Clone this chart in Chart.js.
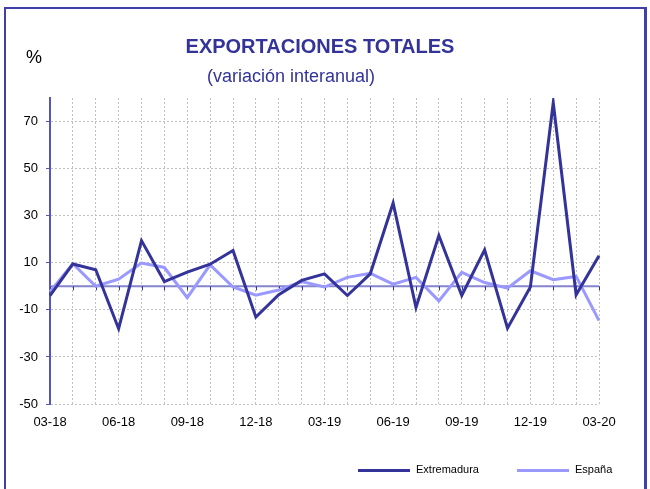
<!DOCTYPE html>
<html>
<head>
<meta charset="utf-8">
<script src="https://cdn.jsdelivr.net/npm/chart.js@4.4.0/dist/chart.umd.min.js"></script>
<style>
html,body{margin:0;padding:0;background:#fff;}
#wrap{position:relative;width:650px;height:489px;}
</style>
</head>
<body>
<div id="wrap"><canvas id="c" width="650" height="489"></canvas></div>
<script>
const categories = ["03-18","04-18","05-18","06-18","07-18","08-18","09-18","10-18","11-18","12-18","01-19","02-19","03-19","04-19","05-19","06-19","07-19","08-19","09-19","10-19","11-19","12-19","01-20","02-20","03-20"];
const extremadura = [-4, 9.5, 7, -18, 19.4, 2, 6, 9.4, 15.2, -13.1, -3.6, 2.5, 5.3, -3.9, 5.3, 35.4, -9, 21.6, -3.9, 15.5, -17.8, -0.3, 78, -3.6, 13];
const espana = [-2.3, 9.6, 0, 3, 9.9, 8, -4.8, 9.1, -0.3, -3.8, -1.6, 2, -0.3, 3.8, 5.5, 0.9, 3.8, -6.2, 5.9, 1.6, -0.8, 6.6, 2.8, 4.2, -14.6];
const yTicks = [-50, -30, -10, 10, 30, 50, 70];
const titleText = "EXPORTACIONES TOTALES";
const subtitleText = "(variación interanual)";
const unitText = "%";
const seriesNames = ["Extremadura", "España"];

const DARK = '#333399';
const LIGHT = '#9999ff';
const FONT = "'Liberation Sans', Arial, sans-serif";

const decor = {
  id: 'decor',
  beforeDatasetsDraw(chart) {
    const ctx = chart.ctx;
    const x = chart.scales.x, y = chart.scales.y;
    const y0 = y.getPixelForValue(0);
    ctx.save();
    ctx.strokeStyle = '#8585cc';
    ctx.lineWidth = 2;
    ctx.beginPath();
    ctx.moveTo(x.left, y0);
    ctx.lineTo(x.right, y0);
    ctx.stroke();
    ctx.strokeStyle = '#333399';
    ctx.lineWidth = 1;
    ctx.beginPath();
    for (let i = 0; i < categories.length; i++) {
      const px = Math.round(x.getPixelForValue(i)) + 0.5;
      ctx.moveTo(px, y0);
      ctx.lineTo(px, y0 + 4);
    }
    ctx.stroke();
    ctx.restore();
  },
  afterDraw(chart) {
    const ctx = chart.ctx;
    ctx.save();
    // frame
    ctx.strokeStyle = '#4040aa';
    ctx.lineWidth = 2;
    ctx.beginPath();
    ctx.moveTo(5, 489);
    ctx.lineTo(5, 8);
    ctx.lineTo(645, 8);
    ctx.stroke();
    ctx.lineWidth = 3;
    ctx.beginPath();
    ctx.moveTo(645.5, 7);
    ctx.lineTo(645.5, 489);
    ctx.stroke();
    // texts
    ctx.fillStyle = DARK;
    ctx.textBaseline = 'middle';
    ctx.textAlign = 'center';
    ctx.font = "bold 20px " + FONT;
    ctx.fillText(titleText, 320, 47);
    ctx.font = "18px " + FONT;
    ctx.fillText(subtitleText, 291, 77);
    ctx.fillStyle = '#000';
    ctx.font = "18px " + FONT;
    ctx.fillText(unitText, 34, 58);
    // legend
    const items = [[seriesNames[0], DARK, 358], [seriesNames[1], LIGHT, 517]];
    ctx.textAlign = 'left';
    ctx.font = "11px " + FONT;
    for (const [t, c, lx] of items) {
      ctx.strokeStyle = c;
      ctx.lineWidth = 3;
      ctx.beginPath();
      ctx.moveTo(lx, 470.5);
      ctx.lineTo(lx + 52, 470.5);
      ctx.stroke();
      ctx.fillStyle = '#000';
      ctx.fillText(t, lx + 58, 470);
    }
    ctx.restore();
  }
};

new Chart(document.getElementById('c'), {
  type: 'line',
  data: {
    labels: categories,
    datasets: [
      { label: seriesNames[1], data: espana, borderColor: LIGHT, backgroundColor: LIGHT, borderWidth: 3, pointRadius: 0, tension: 0, order: 2 },
      { label: seriesNames[0], data: extremadura, borderColor: DARK, backgroundColor: DARK, borderWidth: 3, pointRadius: 0, tension: 0, order: 1 }
    ]
  },
  options: {
    responsive: false,
    animation: false,
    devicePixelRatio: 1,
    layout: { padding: { left: 0, right: 51, top: 98, bottom: 0 } },
    plugins: { legend: { display: false }, title: { display: false }, tooltip: { enabled: false } },
    scales: {
      x: {
        type: 'category',
        offset: false,
        afterFit(s) { s.height = 85; },
        border: { display: false, dash: [2, 2] },
        grid: { color: '#c0c0c0', drawTicks: false, lineWidth: 1 },
        ticks: {
          autoSkip: false, maxRotation: 0, minRotation: 0, padding: 11,
          color: '#000', font: { family: FONT, size: 13 },
          callback(v, i) { return i % 3 === 0 ? categories[i] : ''; }
        }
      },
      y: {
        min: -50, max: 80,
        afterFit(s) { s.width = 50; },
        afterBuildTicks(s) { s.ticks = yTicks.map(v => ({ value: v })); },
        border: { display: true, color: '#5555bb', width: 2, dash: [2, 2] },
        grid: { color: '#c0c0c0', tickLength: 4, tickColor: '#5555bb', tickBorderDash: [], lineWidth: 1 },
        ticks: { color: '#000', font: { family: FONT, size: 13 }, padding: 8 }
      }
    }
  },
  plugins: [decor]
});
</script>
</body>
</html>
